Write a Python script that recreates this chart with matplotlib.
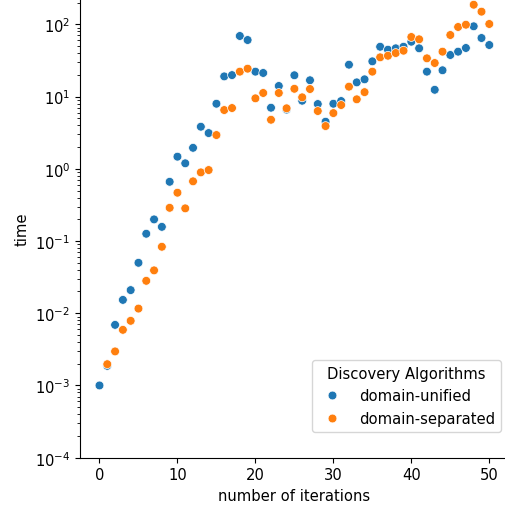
import numpy as np
import pandas as pd
import matplotlib
matplotlib.use("Agg")
import matplotlib.pyplot as plt
import seaborn as sns

# runtime per iteration (log scale)
iterations = list(range(51))
unified = [0.001, 0.00187, 0.0069, 0.0153, 0.0209, 0.0499, 0.126, 0.199, 0.157, 0.66,
           1.47, 1.19, 1.95, 3.82, 3.12, 7.95, 19.0, 19.8, 68.9, 60.6,
           22.1, 21.2, 7.0, 14.0, 6.6, 19.7, 8.75, 16.8, 7.87, 4.48,
           7.95, 8.66, 27.6, 15.7, 17.3, 30.7, 48.9, 44.5, 46.5, 48.9,
           57.4, 46.5, 22.1, 12.4, 23.1, 37.6, 41.8, 47.0, 93.8, 64.6,
           51.7]
separated = [np.nan, 0.00197, 0.00296, 0.00589, 0.00785, 0.0116, 0.0281, 0.0392, 0.0832, 0.288,
             0.466, 0.283, 0.67, 0.891, 0.96, 2.93, 6.5, 6.93, 22.1, 24.3,
             9.44, 11.2, 4.77, 11.2, 6.87, 12.8, 9.75, 12.7, 6.3, 3.9,
             5.9, 7.63, 13.7, 9.15, 11.5, 22.1, 34.9, 36.7, 40.0, 43.1,
             66.7, 62.0, 33.8, 29.1, 41.8, 71.1, 91.8, 98.7, 186.6, 149.6,
             101.0]

df = pd.DataFrame({
    "number of iterations": iterations * 2,
    "time": unified + separated,
    "Discovery Algorithms": ["domain-unified"] * 51 + ["domain-separated"] * 51,
})

plt.rcParams["font.size"] = 10.6

fig = plt.figure(figsize=(5.06, 5.10), dpi=100)
ax = fig.add_axes([0.1581, 0.1006, 0.8474, 0.8994])
sns.scatterplot(data=df.dropna(), x="number of iterations", y="time",
                hue="Discovery Algorithms", ax=ax, s=40)
ax.set_yscale("log")
ax.set_xlim(-2.5, 52.5)
ax.set_ylim(1e-4, 224)
sns.despine(ax=ax)

leg = ax.get_legend()
ax.legend(leg.legend_handles, [t.get_text() for t in leg.get_texts()],
          title="Discovery Algorithms", loc="lower right",
          bbox_to_anchor=(0.990, 0.1516), bbox_transform=fig.transFigure,
          borderaxespad=0)

fig.savefig("out.png", dpi=100)
